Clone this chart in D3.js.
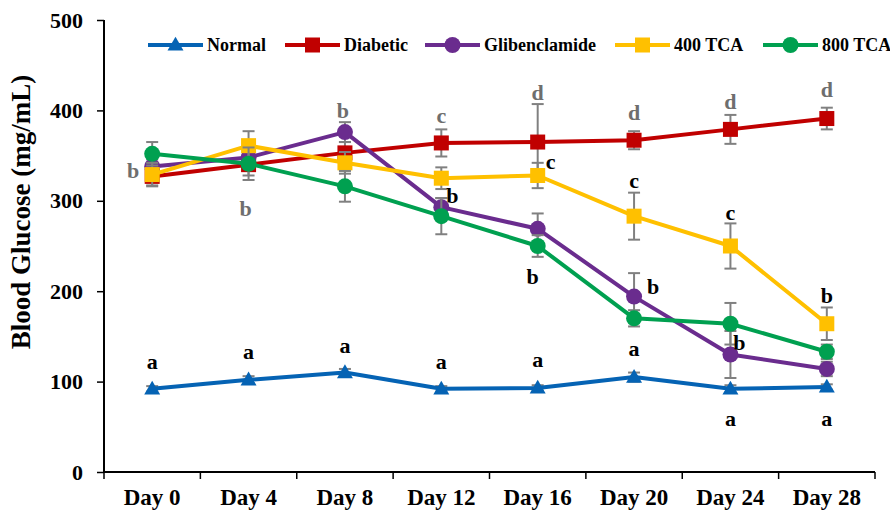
<!DOCTYPE html>
<html>
<head>
<meta charset="utf-8">
<script src="https://cdn.jsdelivr.net/npm/d3@7"></script>
<style>
  html, body { margin: 0; padding: 0; background: #fff; }
  svg text { font-family: "Liberation Serif", "Times New Roman", serif; font-weight: bold; }
</style>
</head>
<body>
<svg id="chart" width="890" height="514"></svg>
<script>
// Sampling days
const days = ["Day 0", "Day 4", "Day 8", "Day 12", "Day 16", "Day 20", "Day 24", "Day 28"];

// Mean blood glucose (mg/mL) and error per group
const normal      = [92, 102, 110, 92, 93, 105, 92, 94];
const normalErr   = [3, 4, 4, 3, 3, 5, 4, 3];
const diabetic    = [327, 340, 353, 364, 365, 367, 379, 391];
const diabeticErr = [10, 12, 12, 15, 42, 10, 16, 12];
const glib        = [338, 348, 376, 293, 269, 194, 130, 114];
const glibErr     = [8, 8, 11, 10, 17, 26, 26, 8];
const tca400      = [329, 361, 342, 325, 328, 283, 250, 164];
const tca400Err   = [13, 16, 12, 12, 14, 26, 25, 18];
const tca800      = [352, 341, 316, 283, 250, 170, 164, 133];
const tca800Err   = [13, 18, 17, 20, 12, 9, 23, 8];

const seriesNames  = ["Normal", "Diabetic", "Glibenclamide", "400 TCA", "800 TCA"];
const seriesColors = ["#0563B4", "#C00000", "#6A2C8E", "#FFC000", "#00A050"];
const seriesShapes = ["triangle", "square", "circle", "square", "circle"];

// Axis ticks
const yTicks = [0, 100, 200, 300, 400, 500];

// Significance letters: day index, letter, level (mg/mL), horizontal shift, muted
const letterDay   = [0, 0, 1, 1, 2, 2, 3, 3, 3, 4, 4, 4, 4, 5, 5, 5, 5, 6, 6, 6, 6, 7, 7, 7];
const letterText  = ["b", "a", "b", "a", "b", "a", "c", "b", "a", "d", "c", "b", "a", "d", "c", "b", "a", "d", "c", "b", "a", "d", "b", "a"];
const letterLevel = [334, 122, 292, 133, 400, 140, 395, 306, 123, 420, 344, 217, 125, 398, 323, 205, 137, 410, 287, 143, 59, 423, 196, 59];
const letterShift = [-19, 0, -3, 0, -2, 0, 0, 11, 0, 0, 13, -5, 0, 0, 0, 19, 0, 0, 0, 9, 0, 0, 0, 0];
const letterMuted = [1, 0, 1, 0, 1, 0, 1, 0, 0, 1, 0, 0, 0, 1, 0, 0, 0, 1, 0, 0, 0, 1, 0, 0];

const values = [normal, diabetic, glib, tca400, tca800];
const errors = [normalErr, diabeticErr, glibErr, tca400Err, tca800Err];

const svg = d3.select("#chart");
const x = d3.scalePoint().domain(days).range([104, 875]).padding(0.5);
const y = d3.scaleLinear().domain([0, 500]).range([472, 20]);

// Y axis
const yAxis = svg.append("g").attr("transform", "translate(104,0)")
  .call(d3.axisLeft(y).tickValues(yTicks).tickSize(7).tickPadding(14));
yAxis.select(".domain").attr("stroke", "#000").attr("stroke-width", 2).attr("d", "M0,20V472");
yAxis.selectAll(".tick line").attr("stroke", "#000").attr("stroke-width", 1.5);
yAxis.selectAll(".tick text").attr("font-size", 22).attr("fill", "#000");

// X axis with ticks between categories
const xAxis = svg.append("g").attr("transform", "translate(0,472)");
xAxis.append("line").attr("x1", 104).attr("x2", 875).attr("stroke", "#000").attr("stroke-width", 2);
const step = x.step();
d3.range(days.length + 1).forEach(i => {
  const xx = 104 + i * step;
  xAxis.append("line").attr("x1", xx).attr("x2", xx).attr("y1", 0).attr("y2", 7)
    .attr("stroke", "#000").attr("stroke-width", 1.5);
});
xAxis.selectAll("text.day").data(days).join("text").attr("class", "day")
  .attr("x", d => x(d)).attr("y", 33).attr("text-anchor", "middle")
  .attr("font-size", 23).attr("fill", "#000").text(d => d);

// Y title
svg.append("text").attr("transform", "translate(30,212) rotate(-90)")
  .attr("text-anchor", "middle").attr("font-size", 27).attr("fill", "#000")
  .text("Blood Glucose (mg/mL)");

function drawMarker(g, shape, cx, cy, color) {
  if (shape === "triangle") {
    g.append("path").attr("d", d3.symbol(d3.symbolTriangle, 110)()).attr("transform", `translate(${cx},${cy + 1})`).attr("fill", color);
  } else if (shape === "square") {
    g.append("rect").attr("x", cx - 7.5).attr("y", cy - 7.5).attr("width", 15).attr("height", 15).attr("fill", color);
  } else {
    g.append("circle").attr("cx", cx).attr("cy", cy).attr("r", 8).attr("fill", color);
  }
}

const line = d3.line().x((d, i) => x(days[i])).y(d => y(d));
const plot = svg.append("g");

values.forEach((vals, s) => {
  const g = plot.append("g");
  // error bars
  vals.forEach((v, i) => {
    const e = errors[s][i], cx = x(days[i]);
    g.append("line").attr("x1", cx).attr("x2", cx).attr("y1", y(v - e)).attr("y2", y(v + e)).attr("stroke", "#808080").attr("stroke-width", 2);
    [v - e, v + e].forEach(t => g.append("line").attr("x1", cx - 6).attr("x2", cx + 6).attr("y1", y(t)).attr("y2", y(t)).attr("stroke", "#808080").attr("stroke-width", 2));
  });
  g.append("path").datum(vals).attr("d", line).attr("fill", "none")
    .attr("stroke", seriesColors[s]).attr("stroke-width", 4).attr("stroke-linejoin", "round");
  vals.forEach((v, i) => drawMarker(g, seriesShapes[s], x(days[i]), y(v), seriesColors[s]));
});

// Letters
const lg = svg.append("g");
letterText.forEach((t, k) => {
  lg.append("text").attr("x", x(days[letterDay[k]]) + letterShift[k]).attr("y", y(letterLevel[k]))
    .attr("dy", "0.35em").attr("text-anchor", "middle").attr("font-size", 22)
    .attr("fill", letterMuted[k] ? "#6E6E6E" : "#000").text(t);
});

// Legend
const legendX = [148, 285, 425, 615, 763];
const leg = svg.append("g").attr("transform", "translate(0,45)");
seriesNames.forEach((n, s) => {
  const lx = legendX[s];
  leg.append("line").attr("x1", lx).attr("x2", lx + 55).attr("stroke", seriesColors[s]).attr("stroke-width", 4);
  drawMarker(leg, seriesShapes[s], lx + 27.5, 0, seriesColors[s]);
  leg.append("text").attr("x", lx + 59).attr("dy", "0.35em").attr("font-size", 18).attr("fill", "#000").text(n);
});
</script>
</body>
</html>
